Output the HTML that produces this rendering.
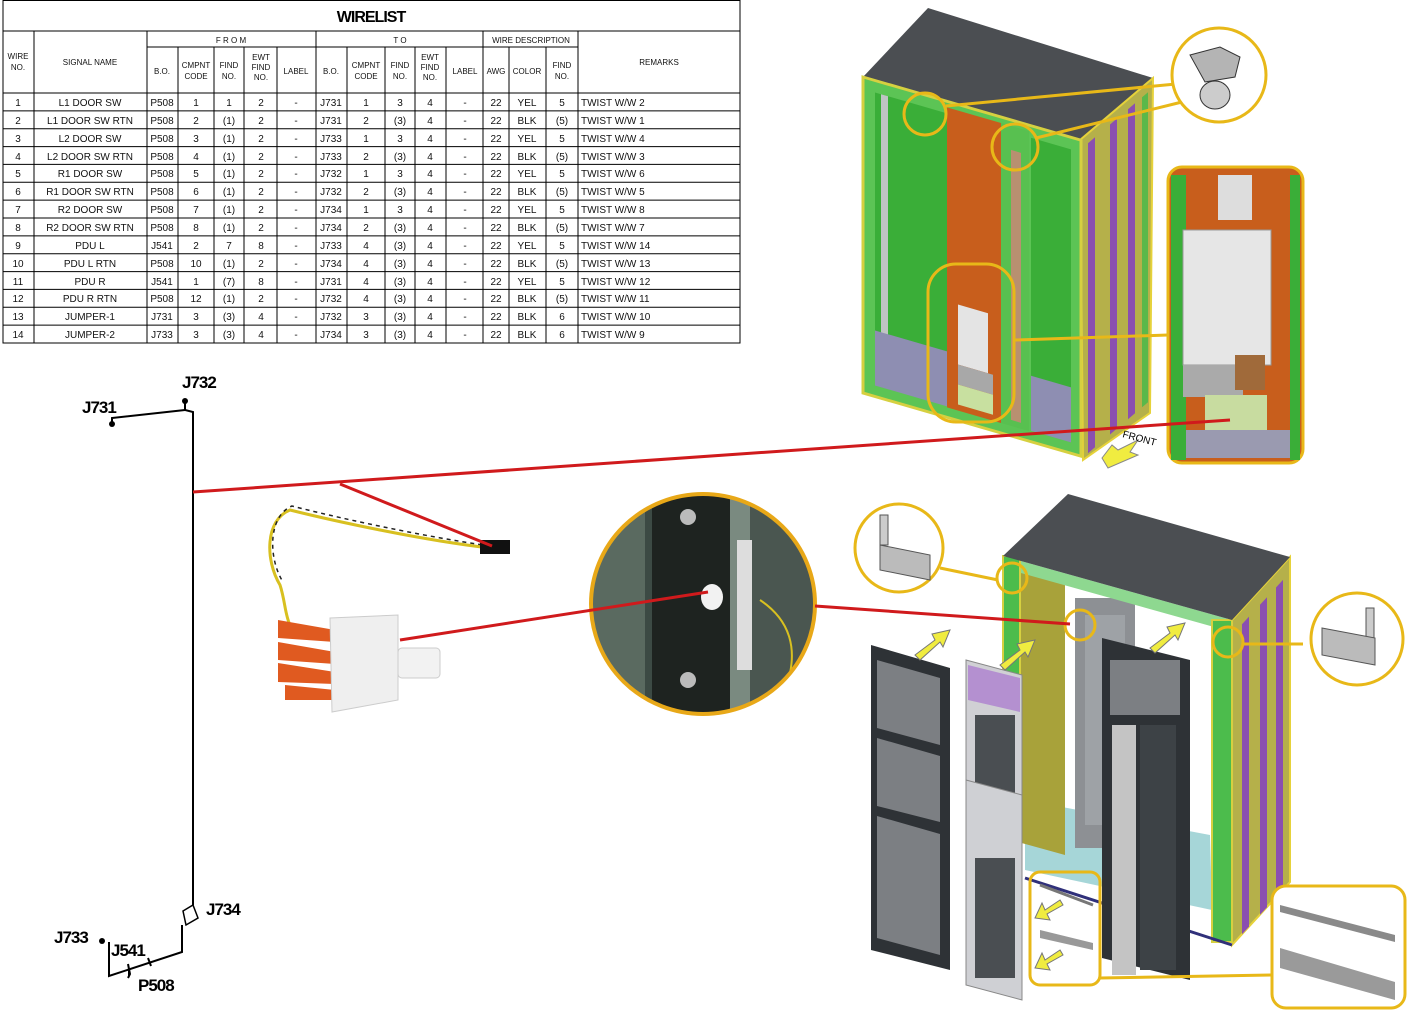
<!DOCTYPE html>
<html><head><meta charset="utf-8"><style>
html,body{margin:0;padding:0;background:#fff;}
svg{display:block;}
.t{font-family:"Liberation Sans Narrow","Liberation Sans",sans-serif;font-size:10px;fill:#111;}
.h{font-family:"Liberation Sans Narrow","Liberation Sans",sans-serif;font-size:8px;fill:#111;}
.lab{font-family:"Liberation Sans",sans-serif;font-size:17px;font-weight:bold;fill:#000;letter-spacing:-1px;}
</style></head><body>
<svg width="1411" height="1022" viewBox="0 0 1411 1022" xmlns="http://www.w3.org/2000/svg">
<!-- WIRELIST TABLE -->
<g stroke="#000" stroke-width="1" fill="none">
<rect x="3" y="0.5" width="737" height="342.5"/>
<line x1="3" y1="31" x2="740" y2="31"/>
<line x1="147" y1="47" x2="578" y2="47"/>
<line x1="3" y1="93" x2="740" y2="93"/>
<g id="cols">
<line x1="34" y1="31" x2="34" y2="343"/>
<line x1="147" y1="31" x2="147" y2="343"/>
<line x1="178" y1="47" x2="178" y2="343"/>
<line x1="214" y1="47" x2="214" y2="343"/>
<line x1="244" y1="47" x2="244" y2="343"/>
<line x1="277" y1="47" x2="277" y2="343"/>
<line x1="316" y1="31" x2="316" y2="343"/>
<line x1="347" y1="47" x2="347" y2="343"/>
<line x1="385" y1="47" x2="385" y2="343"/>
<line x1="415" y1="47" x2="415" y2="343"/>
<line x1="446" y1="47" x2="446" y2="343"/>
<line x1="483" y1="31" x2="483" y2="343"/>
<line x1="509" y1="47" x2="509" y2="343"/>
<line x1="546" y1="47" x2="546" y2="343"/>
<line x1="578" y1="31" x2="578" y2="343"/>
</g>
<line x1="3" y1="110.9" x2="740" y2="110.9"/><line x1="3" y1="128.7" x2="740" y2="128.7"/>
<line x1="3" y1="146.6" x2="740" y2="146.6"/><line x1="3" y1="164.4" x2="740" y2="164.4"/>
<line x1="3" y1="182.3" x2="740" y2="182.3"/><line x1="3" y1="200.1" x2="740" y2="200.1"/>
<line x1="3" y1="218" x2="740" y2="218"/><line x1="3" y1="235.9" x2="740" y2="235.9"/>
<line x1="3" y1="253.7" x2="740" y2="253.7"/><line x1="3" y1="271.6" x2="740" y2="271.6"/>
<line x1="3" y1="289.4" x2="740" y2="289.4"/><line x1="3" y1="307.3" x2="740" y2="307.3"/>
<line x1="3" y1="325.1" x2="740" y2="325.1"/>
</g>
<text x="371" y="22" text-anchor="middle" style="font-family:'Liberation Sans',sans-serif;font-size:16px;font-weight:bold;letter-spacing:-1px">WIRELIST</text>
<g class="h" text-anchor="middle">
<text x="231" y="43">F R O M</text><text x="400" y="43">T O</text><text x="531" y="43">WIRE DESCRIPTION</text>
<text x="18" y="59">WIRE</text><text x="18" y="70">NO.</text>
<text x="90" y="65">SIGNAL NAME</text><text x="659" y="65">REMARKS</text>
<text x="162" y="74">B.O.</text><text x="196" y="68">CMPNT</text><text x="196" y="79">CODE</text>
<text x="229" y="68">FIND</text><text x="229" y="79">NO.</text>
<text x="261" y="60">EWT</text><text x="261" y="70">FIND</text><text x="261" y="80">NO.</text>
<text x="296" y="74">LABEL</text>
<text x="331" y="74">B.O.</text><text x="366" y="68">CMPNT</text><text x="366" y="79">CODE</text>
<text x="400" y="68">FIND</text><text x="400" y="79">NO.</text>
<text x="430" y="60">EWT</text><text x="430" y="70">FIND</text><text x="430" y="80">NO.</text>
<text x="465" y="74">LABEL</text>
<text x="496" y="74">AWG</text><text x="527" y="74">COLOR</text>
<text x="562" y="68">FIND</text><text x="562" y="79">NO.</text>
</g>
<g class="t">
<g text-anchor="middle">
<text x="18" y="106">1</text><text x="18" y="124">2</text><text x="18" y="142">3</text><text x="18" y="160">4</text><text x="18" y="177">5</text><text x="18" y="195">6</text><text x="18" y="213">7</text><text x="18" y="231">8</text><text x="18" y="249">9</text><text x="18" y="267">10</text><text x="18" y="285">11</text><text x="18" y="302">12</text><text x="18" y="320">13</text><text x="18" y="338">14</text>
<text x="90" y="106">L1 DOOR SW</text><text x="90" y="124">L1 DOOR SW RTN</text><text x="90" y="142">L2 DOOR SW</text><text x="90" y="160">L2 DOOR SW RTN</text><text x="90" y="177">R1 DOOR SW</text><text x="90" y="195">R1 DOOR SW RTN</text><text x="90" y="213">R2 DOOR SW</text><text x="90" y="231">R2 DOOR SW RTN</text><text x="90" y="249">PDU L</text><text x="90" y="267">PDU L RTN</text><text x="90" y="285">PDU R</text><text x="90" y="302">PDU R RTN</text><text x="90" y="320">JUMPER-1</text><text x="90" y="338">JUMPER-2</text>
<text x="162" y="106">P508</text><text x="162" y="124">P508</text><text x="162" y="142">P508</text><text x="162" y="160">P508</text><text x="162" y="177">P508</text><text x="162" y="195">P508</text><text x="162" y="213">P508</text><text x="162" y="231">P508</text><text x="162" y="249">J541</text><text x="162" y="267">P508</text><text x="162" y="285">J541</text><text x="162" y="302">P508</text><text x="162" y="320">J731</text><text x="162" y="338">J733</text>
<text x="196" y="106">1</text><text x="196" y="124">2</text><text x="196" y="142">3</text><text x="196" y="160">4</text><text x="196" y="177">5</text><text x="196" y="195">6</text><text x="196" y="213">7</text><text x="196" y="231">8</text><text x="196" y="249">2</text><text x="196" y="267">10</text><text x="196" y="285">1</text><text x="196" y="302">12</text><text x="196" y="320">3</text><text x="196" y="338">3</text>
<text x="229" y="106">1</text><text x="229" y="124">(1)</text><text x="229" y="142">(1)</text><text x="229" y="160">(1)</text><text x="229" y="177">(1)</text><text x="229" y="195">(1)</text><text x="229" y="213">(1)</text><text x="229" y="231">(1)</text><text x="229" y="249">7</text><text x="229" y="267">(1)</text><text x="229" y="285">(7)</text><text x="229" y="302">(1)</text><text x="229" y="320">(3)</text><text x="229" y="338">(3)</text>
<text x="261" y="106">2</text><text x="261" y="124">2</text><text x="261" y="142">2</text><text x="261" y="160">2</text><text x="261" y="177">2</text><text x="261" y="195">2</text><text x="261" y="213">2</text><text x="261" y="231">2</text><text x="261" y="249">8</text><text x="261" y="267">2</text><text x="261" y="285">8</text><text x="261" y="302">2</text><text x="261" y="320">4</text><text x="261" y="338">4</text>
<text x="296" y="106">-</text><text x="296" y="124">-</text><text x="296" y="142">-</text><text x="296" y="160">-</text><text x="296" y="177">-</text><text x="296" y="195">-</text><text x="296" y="213">-</text><text x="296" y="231">-</text><text x="296" y="249">-</text><text x="296" y="267">-</text><text x="296" y="285">-</text><text x="296" y="302">-</text><text x="296" y="320">-</text><text x="296" y="338">-</text>
<text x="331" y="106">J731</text><text x="331" y="124">J731</text><text x="331" y="142">J733</text><text x="331" y="160">J733</text><text x="331" y="177">J732</text><text x="331" y="195">J732</text><text x="331" y="213">J734</text><text x="331" y="231">J734</text><text x="331" y="249">J733</text><text x="331" y="267">J734</text><text x="331" y="285">J731</text><text x="331" y="302">J732</text><text x="331" y="320">J732</text><text x="331" y="338">J734</text>
<text x="366" y="106">1</text><text x="366" y="124">2</text><text x="366" y="142">1</text><text x="366" y="160">2</text><text x="366" y="177">1</text><text x="366" y="195">2</text><text x="366" y="213">1</text><text x="366" y="231">2</text><text x="366" y="249">4</text><text x="366" y="267">4</text><text x="366" y="285">4</text><text x="366" y="302">4</text><text x="366" y="320">3</text><text x="366" y="338">3</text>
<text x="400" y="106">3</text><text x="400" y="124">(3)</text><text x="400" y="142">3</text><text x="400" y="160">(3)</text><text x="400" y="177">3</text><text x="400" y="195">(3)</text><text x="400" y="213">3</text><text x="400" y="231">(3)</text><text x="400" y="249">(3)</text><text x="400" y="267">(3)</text><text x="400" y="285">(3)</text><text x="400" y="302">(3)</text><text x="400" y="320">(3)</text><text x="400" y="338">(3)</text>
<text x="430" y="106">4</text><text x="430" y="124">4</text><text x="430" y="142">4</text><text x="430" y="160">4</text><text x="430" y="177">4</text><text x="430" y="195">4</text><text x="430" y="213">4</text><text x="430" y="231">4</text><text x="430" y="249">4</text><text x="430" y="267">4</text><text x="430" y="285">4</text><text x="430" y="302">4</text><text x="430" y="320">4</text><text x="430" y="338">4</text>
<text x="465" y="106">-</text><text x="465" y="124">-</text><text x="465" y="142">-</text><text x="465" y="160">-</text><text x="465" y="177">-</text><text x="465" y="195">-</text><text x="465" y="213">-</text><text x="465" y="231">-</text><text x="465" y="249">-</text><text x="465" y="267">-</text><text x="465" y="285">-</text><text x="465" y="302">-</text><text x="465" y="320">-</text><text x="465" y="338">-</text>
<text x="496" y="106">22</text><text x="496" y="124">22</text><text x="496" y="142">22</text><text x="496" y="160">22</text><text x="496" y="177">22</text><text x="496" y="195">22</text><text x="496" y="213">22</text><text x="496" y="231">22</text><text x="496" y="249">22</text><text x="496" y="267">22</text><text x="496" y="285">22</text><text x="496" y="302">22</text><text x="496" y="320">22</text><text x="496" y="338">22</text>
<text x="527" y="106">YEL</text><text x="527" y="124">BLK</text><text x="527" y="142">YEL</text><text x="527" y="160">BLK</text><text x="527" y="177">YEL</text><text x="527" y="195">BLK</text><text x="527" y="213">YEL</text><text x="527" y="231">BLK</text><text x="527" y="249">YEL</text><text x="527" y="267">BLK</text><text x="527" y="285">YEL</text><text x="527" y="302">BLK</text><text x="527" y="320">BLK</text><text x="527" y="338">BLK</text>
<text x="562" y="106">5</text><text x="562" y="124">(5)</text><text x="562" y="142">5</text><text x="562" y="160">(5)</text><text x="562" y="177">5</text><text x="562" y="195">(5)</text><text x="562" y="213">5</text><text x="562" y="231">(5)</text><text x="562" y="249">5</text><text x="562" y="267">(5)</text><text x="562" y="285">5</text><text x="562" y="302">(5)</text><text x="562" y="320">6</text><text x="562" y="338">6</text>
</g>
<text x="581" y="106">TWIST W/W 2</text><text x="581" y="124">TWIST W/W 1</text><text x="581" y="142">TWIST W/W 4</text><text x="581" y="160">TWIST W/W 3</text><text x="581" y="177">TWIST W/W 6</text><text x="581" y="195">TWIST W/W 5</text><text x="581" y="213">TWIST W/W 8</text><text x="581" y="231">TWIST W/W 7</text><text x="581" y="249">TWIST W/W 14</text><text x="581" y="267">TWIST W/W 13</text><text x="581" y="285">TWIST W/W 12</text><text x="581" y="302">TWIST W/W 11</text><text x="581" y="320">TWIST W/W 10</text><text x="581" y="338">TWIST W/W 9</text>
</g>

<!-- SCHEMATIC -->
<g stroke="#000" stroke-width="2" fill="none">
<polyline points="112,424 112,418 185,410"/>
<polyline points="185,401 185,410 193,412 193,905"/>
<path d="M183,911 L193,905 L198,918 L186,925 Z" stroke-width="1.5"/>
<polyline points="182,925 182,952 109,976 109,942"/>
</g>
<circle cx="112" cy="424" r="3" fill="#000"/><circle cx="185" cy="401" r="3" fill="#000"/>
<circle cx="102" cy="941" r="3" fill="#000"/>
<path d="M128,964 l2,10 l-2,4 M148,958 l3,8" stroke="#000" stroke-width="2"/>
<text class="lab" x="182" y="388">J732</text>
<text class="lab" x="82" y="413">J731</text>
<text class="lab" x="206" y="915">J734</text>
<text class="lab" x="54" y="943">J733</text>
<text class="lab" x="111" y="956">J541</text>
<text class="lab" x="138" y="991">P508</text>

<!-- TOP CABINET -->
<polygon points="863,77 928,8 1153,78 1080,140" fill="#4b4e52"/>
<polygon points="1080,140 1153,78 1150,413 1083,460" fill="#b5b04a" stroke="#e6d23a" stroke-width="2"/>
<g transform="matrix(1,-0.85,0,1,1080,140)">
<rect x="8" y="10" width="7" height="310" fill="#8a4fb0"/>
<rect x="30" y="10" width="7" height="310" fill="#8a4fb0"/>
<rect x="48" y="10" width="7" height="310" fill="#8a4fb0"/>
<rect x="62" y="10" width="6" height="310" fill="#5ab84a"/>
</g>
<g transform="matrix(1,0.29,0,1,863,77)">
<rect x="0" y="0" width="218" height="316" fill="#5cc455" stroke="#d6d040" stroke-width="3"/>
<rect x="12" y="12" width="72" height="245" fill="#3aae38"/>
<rect x="18" y="12" width="7" height="245" fill="#c0c4c4"/>
<rect x="84" y="6" width="54" height="300" fill="#c85e1c"/>
<rect x="138" y="6" width="28" height="300" fill="#58c050"/>
<rect x="148" y="30" width="10" height="270" fill="#b89070"/>
<rect x="168" y="12" width="40" height="245" fill="#3aae38"/>
<rect x="12" y="250" width="72" height="55" fill="#8e8eb2"/>
<rect x="168" y="250" width="40" height="55" fill="#8e8eb2"/>
<rect x="95" y="200" width="30" height="60" fill="#e4e4e4"/>
<rect x="95" y="260" width="35" height="20" fill="#a8a8a8"/>
<rect x="95" y="280" width="35" height="20" fill="#c8e0a0"/>
</g>
<!-- annotations top -->
<g stroke="#e8b818" stroke-width="3" fill="none">
<line x1="946" y1="106" x2="1176" y2="84"/>
<line x1="1036" y1="138" x2="1182" y2="102"/>
<line x1="1015" y1="340" x2="1168" y2="335"/>
</g>
<circle cx="1219" cy="75" r="47" fill="#fff" stroke="#e8b818" stroke-width="3"/>
<path d="M1190,55 l30,-8 l20,10 l-5,20 l-30,5 z" fill="#b4b4b4" stroke="#333"/>
<ellipse cx="1215" cy="95" rx="15" ry="14" fill="#ccc" stroke="#333"/>
<circle cx="925" cy="114" r="21" fill="none" stroke="#e8b818" stroke-width="3"/>
<circle cx="1015" cy="147" r="23" fill="none" stroke="#e8b818" stroke-width="3"/>
<rect x="928" y="264" width="86" height="158" rx="28" fill="none" stroke="#e8b818" stroke-width="3"/>
<!-- right inset -->
<rect x="1168" y="167" width="135" height="296" rx="14" fill="#c85e1c" stroke="#e8b818" stroke-width="3"/>
<rect x="1171" y="175" width="15" height="285" fill="#3aae38"/>
<rect x="1290" y="175" width="10" height="285" fill="#3aae38"/>
<rect x="1218" y="175" width="34" height="45" fill="#ddd"/>
<rect x="1183" y="230" width="88" height="135" fill="#e6e6e6" stroke="#999"/>
<rect x="1183" y="365" width="60" height="32" fill="#aaa"/>
<rect x="1235" y="355" width="30" height="35" fill="#a06a3a"/>
<rect x="1205" y="395" width="62" height="35" fill="#c8dca0"/>
<rect x="1186" y="430" width="104" height="28" fill="#9a9ab0"/>
<!-- front arrow -->
<polygon points="1102,458 1112,445 1118,450 1138,440 1130,452 1138,455 1108,468" fill="#f0ec40" stroke="#888"/>
<text x="1122" y="437" transform="rotate(15 1122 437)" style="font-family:'Liberation Sans',sans-serif;font-size:10px">FRONT</text>

<!-- BOTTOM CABINET -->
<polygon points="1232,620 1290,557 1290,882 1232,945" fill="#b5b04a" stroke="#e6d23a" stroke-width="2"/>
<g transform="matrix(1,-1.08,0,1,1232,620)">
<rect x="10" y="15" width="7" height="310" fill="#8a4fb0"/>
<rect x="28" y="15" width="7" height="310" fill="#8a4fb0"/>
<rect x="44" y="15" width="7" height="310" fill="#8a4fb0"/>
</g>
<polygon points="1003,556 1232,620 1232,945 1003,880" fill="#fff"/>
<polygon points="1025,800 1210,835 1212,910 1025,870" fill="#a6d6d8"/>
<rect x="1075" y="598" width="60" height="250" fill="#8d9094"/>
<rect x="1085" y="615" width="40" height="210" fill="#9ea2a6"/>
<polygon points="1018,565 1065,578 1065,855 1018,842" fill="#a8a23a"/>
<polygon points="1003,556 1232,620 1232,632 1003,568" fill="#8ed890"/>
<rect x="1003" y="556" width="17" height="322" fill="#4cbc4c" stroke="#d6d040" stroke-width="2"/>
<rect x="1212" y="620" width="20" height="322" fill="#4cbc4c" stroke="#d6d040" stroke-width="2"/>
<polygon points="1003,556 1068,494 1290,557 1232,620" fill="#4b4e52"/>
<line x1="1025" y1="878" x2="1232" y2="945" stroke="#30307a" stroke-width="3"/>
<!-- doors -->
<polygon points="871,645 950,668 950,970 871,950" fill="#2e3236"/>
<polygon points="877,660 940,678 940,745 877,728" fill="#7c7f83"/>
<polygon points="877,738 940,756 940,822 877,806" fill="#7c7f83"/>
<polygon points="877,816 940,834 940,955 877,938" fill="#7c7f83"/>
<polygon points="966,660 1022,675 1022,840 966,825" fill="#d0d0d4" stroke="#888"/>
<polygon points="968,665 1020,678 1020,712 968,700" fill="#b490d0"/>
<rect x="975" y="715" width="40" height="100" fill="#4a4e52"/>
<polygon points="966,780 1022,795 1022,1000 966,985" fill="#cfd0d4" stroke="#888"/>
<rect x="975" y="858" width="40" height="120" fill="#4a4e52"/>
<polygon points="1102,638 1190,660 1190,980 1102,958" fill="#2e3236"/>
<rect x="1110" y="660" width="70" height="55" fill="#7c7f83"/>
<rect x="1112" y="725" width="24" height="250" fill="#c4c4c4"/>
<rect x="1140" y="725" width="36" height="245" fill="#3d4246"/>
<!-- yellow arrows -->
<g fill="#f0ec40" stroke="#777" stroke-width="1">
<polygon points="915,655 935,640 932,634 950,630 943,647 940,642 920,660"/>
<polygon points="1000,665 1020,650 1017,644 1035,640 1028,657 1025,652 1005,670"/>
<polygon points="1150,648 1170,633 1167,627 1185,623 1178,640 1175,635 1155,653"/>
<polygon points="1060,900 1045,910 1042,903 1035,918 1050,920 1047,914 1063,905"/>
<polygon points="1060,950 1045,960 1042,953 1035,968 1050,970 1047,964 1063,955"/>
</g>
<!-- annotations bottom -->
<g stroke="#e8b818" stroke-width="3" fill="none">
<line x1="940" y1="568" x2="998" y2="580"/>
<line x1="1243" y1="644" x2="1303" y2="644"/>
<line x1="1100" y1="978" x2="1272" y2="975"/>
<circle cx="1012" cy="578" r="15"/>
<circle cx="1228" cy="642" r="15"/>
<circle cx="1080" cy="625" r="15"/>
</g>
<circle cx="899" cy="548" r="44" fill="#fff" stroke="#e8b818" stroke-width="3"/>
<rect x="880" y="515" width="8" height="30" fill="#ccc" stroke="#555"/>
<polygon points="880,545 930,555 930,580 880,570" fill="#bbb" stroke="#555"/>
<circle cx="1357" cy="639" r="46" fill="#fff" stroke="#e8b818" stroke-width="3"/>
<rect x="1366" y="608" width="8" height="30" fill="#ccc" stroke="#555"/>
<polygon points="1322,628 1375,638 1375,665 1322,655" fill="#bbb" stroke="#555"/>
<rect x="1030" y="872" width="70" height="113" rx="10" fill="none" stroke="#e8b818" stroke-width="3"/>
<line x1="1040" y1="885" x2="1093" y2="905" stroke="#777" stroke-width="3"/>
<polygon points="1040,930 1093,943 1093,950 1040,938" fill="#999"/>
<rect x="1272" y="886" width="133" height="122" rx="14" fill="#fff" stroke="#e8b818" stroke-width="3"/>
<polygon points="1280,905 1395,935 1395,942 1280,912" fill="#8a8a8a"/>
<polygon points="1280,948 1395,982 1395,1000 1280,968" fill="#9a9a9a"/>

<!-- switch photo -->
<g fill="none" stroke-width="3">
<path d="M490,548 C420,540 330,520 290,510 C265,520 265,560 280,585 C285,600 285,615 290,625" stroke="#d8c020"/>
<path d="M490,546 C420,536 330,516 292,506 C268,516 268,558 283,582" stroke="#222" stroke-width="1.5" stroke-dasharray="4 4"/>
</g>
<rect x="480" y="540" width="30" height="14" fill="#111"/>
<g fill="#e05a20">
<polygon points="278,620 335,630 335,642 278,638"/>
<polygon points="278,642 335,652 335,664 278,660"/>
<polygon points="278,663 335,672 335,684 278,682"/>
<polygon points="285,685 335,690 335,700 285,700"/>
</g>
<polygon points="330,618 398,615 398,700 332,712" fill="#efefef" stroke="#ccc"/>
<rect x="398" y="648" width="42" height="30" rx="4" fill="#f2f2f2" stroke="#ccc"/>

<!-- big circle photo -->
<defs><clipPath id="bc"><ellipse cx="703" cy="604" rx="112" ry="110"/></clipPath></defs>
<g clip-path="url(#bc)">
<rect x="590" y="490" width="230" height="230" fill="#3c4a44"/>
<rect x="590" y="490" width="55" height="230" fill="#5a6a60"/>
<rect x="652" y="490" width="78" height="230" fill="#1e2320"/>
<rect x="730" y="490" width="20" height="230" fill="#7a8a80"/>
<rect x="750" y="490" width="70" height="230" fill="#4a5650"/>
<rect x="737" y="540" width="15" height="130" fill="#ddd"/>
<path d="M760,600 C790,620 800,650 785,690" stroke="#d8c020" stroke-width="2" fill="none"/>
<circle cx="688" cy="517" r="8" fill="#bbb"/>
<circle cx="688" cy="680" r="8" fill="#bbb"/>
<ellipse cx="712" cy="597" rx="11" ry="13" fill="#f2f2f2"/>
</g>
<ellipse cx="703" cy="604" rx="112" ry="110" fill="none" stroke="#e8a818" stroke-width="4"/>

<!-- red leader lines -->
<g stroke="#d01a1c" stroke-width="3" fill="none">
<line x1="193" y1="492" x2="1230" y2="420"/>
<line x1="340" y1="484" x2="492" y2="546"/>
<line x1="400" y1="640" x2="708" y2="592"/>
<line x1="815" y1="606" x2="1070" y2="624"/>
</g>
</svg>
</body></html>
